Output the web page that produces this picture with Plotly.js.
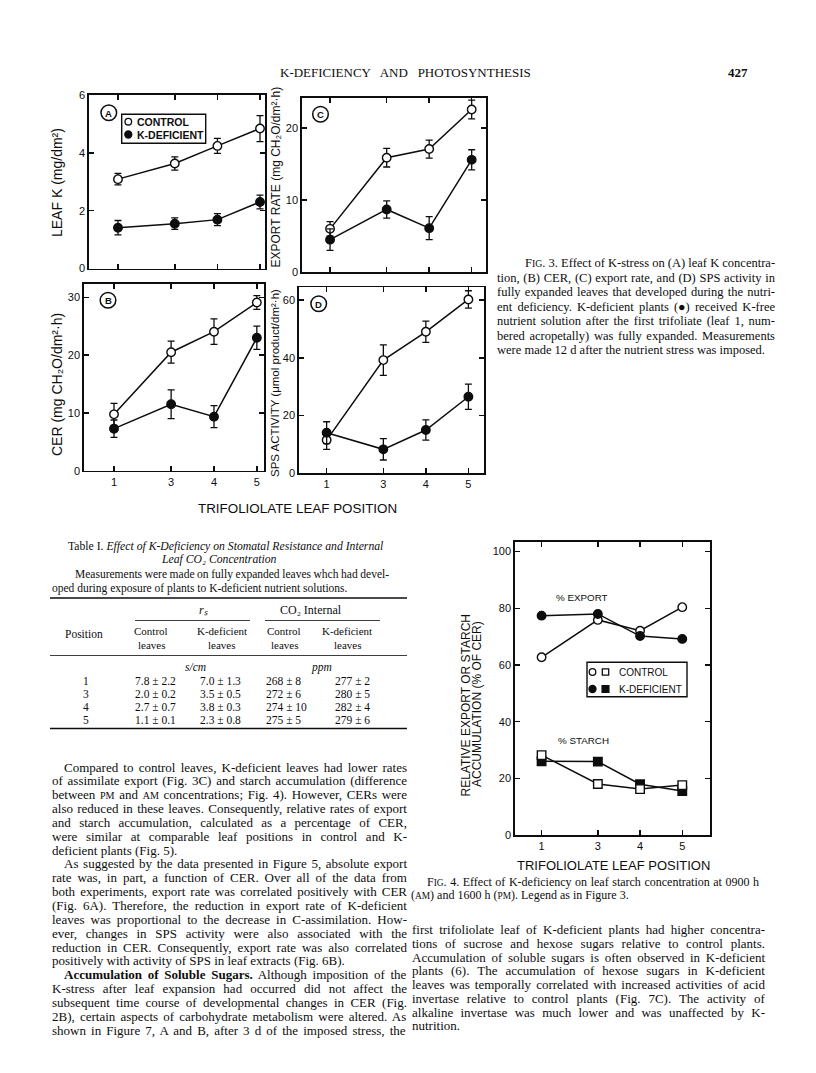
<!DOCTYPE html>
<html>
<head>
<meta charset="utf-8">
<script src="https://cdn.plot.ly/plotly-3.0.1.min.js"></script>
<style>
  html,body{margin:0;padding:0;background:#fff;}
  #chart{width:816px;height:1073px;}
</style>
</head>
<body>
<div id="chart"></div>
<script>
// ---------------- DATA ----------------
const leafLabels = ['1', '3', '4', '5'];          // trifoliolate leaf positions (tick labels)
const leafAxis   = [0, 1.333, 2.333, 3.333];      // axis coordinate of each leaf position (uneven spacing of the original)

// Fig 3A  leaf K (mg/dm2)
const leafKControl    = [3.09, 3.63, 4.24, 4.84];
const leafKControlErr = [0.20, 0.23, 0.26, 0.45];
const leafKDef        = [1.41, 1.55, 1.69, 2.30];
const leafKDefErr     = [0.25, 0.20, 0.21, 0.24];

// Fig 3B  CER (mg CH2O/dm2 h)
const cerControl    = [9.75, 20.5, 24.05, 29.1];
const cerControlErr = [1.9, 1.9, 2.2, 1.2];
const cerDef        = [7.27, 11.5, 9.35, 23.0];
const cerDefErr     = [1.5, 2.5, 1.9, 2.0];

// Fig 3C  export rate (mg CH2O/dm2 h)
const exportControl    = [6.0, 15.9, 17.1, 22.6];
const exportControlErr = [1.0, 1.3, 1.25, 1.3];
const exportDef        = [4.5, 8.7, 6.1, 15.6];
const exportDefErr     = [1.5, 1.2, 1.6, 1.4];

// Fig 3D  SPS activity (umol product/dm2 h)
const spsControl    = [11.5, 39.2, 49.0, 60.2];
const spsControlErr = [3.2, 5.3, 3.7, 3.0];
const spsDef        = [14.05, 8.3, 15.0, 26.5];
const spsDefErr     = [3.8, 3.7, 3.5, 4.4];

// Fig 5  relative export / starch accumulation (% of CER)
const relExportControl = [62.7, 75.9, 72.1, 80.4];
const relExportDef     = [77.4, 78.0, 70.2, 69.2];
const relStarchControl = [28.2, 18.0, 16.2, 17.6];
const relStarchDef     = [26.0, 25.9, 17.9, 15.5];

// axis tick values
const yTicksA = [0, 2, 4, 6];
const yTicksB = [0, 10, 20, 30];
const yTicksC = [0, 10, 20];
const yTicksD = [0, 20, 40, 60];
const yTicksF = [0, 20, 40, 60, 80, 100];

// Table I
const tablePositions = ['1', '3', '4', '5'];
const rsControl  = ['7.8 ± 2.2', '2.0 ± 0.2', '2.7 ± 0.7', '1.1 ± 0.1'];
const rsDef      = ['7.0 ± 1.3', '3.5 ± 0.5', '3.8 ± 0.3', '2.3 ± 0.8'];
const co2Control = ['268 ± 8', '272 ± 6', '274 ± 10', '275 ± 5'];
const co2Def     = ['277 ± 2', '280 ± 5', '282 ± 4', '279 ± 6'];

// Text
const fig3Caption = [
  'F<SC>IG</SC>. 3. Effect of K-stress on (A) leaf K concentra-',
  'tion, (B) CER, (C) export rate, and (D) SPS activity in',
  'fully expanded leaves that developed during the nutri-',
  'ent deficiency. K-deficient plants (●) received K-free',
  'nutrient solution after the first trifoliate (leaf 1, num-',
  'bered acropetally) was fully expanded. Measurements',
  'were made 12 d after the nutrient stress was imposed.'
];
const fig4Caption = [
  'F<SC>IG</SC>. 4. Effect of K-deficiency on leaf starch concentration at 0900 h',
  '(<SC>AM</SC>) and 1600 h (<SC>PM</SC>). Legend as in Figure 3.'
];
const bodyLeft = [
  'Compared to control leaves, K-deficient leaves had lower rates',
  'of assimilate export (Fig. 3C) and starch accumulation (difference',
  'between <SC>PM</SC> and <SC>AM</SC> concentrations; Fig. 4). However, CERs were',
  'also reduced in these leaves. Consequently, relative rates of export',
  'and starch accumulation, calculated as a percentage of CER,',
  'were similar at comparable leaf positions in control and K-',
  'deficient plants (Fig. 5).',
  'As suggested by the data presented in Figure 5, absolute export',
  'rate was, in part, a function of CER. Over all of the data from',
  'both experiments, export rate was correlated positively with CER',
  '(Fig. 6A). Therefore, the reduction in export rate of K-deficient',
  'leaves was proportional to the decrease in C-assimilation. How-',
  'ever, changes in SPS activity were also associated with the',
  'reduction in CER. Consequently, export rate was also correlated',
  'positively with activity of SPS in leaf extracts (Fig. 6B).',
  '<b>Accumulation of Soluble Sugars.</b> Although imposition of the',
  'K-stress after leaf expansion had occurred did not affect the',
  'subsequent time course of developmental changes in CER (Fig.',
  '2B), certain aspects of carbohydrate metabolism were altered. As',
  'shown in Figure 7, A and B, after 3 d of the imposed stress, the'
];
const bodyLeftIndent = [0, 7, 15];
const bodyLeftLast   = [6, 14];
const bodyRight = [
  'first trifoliolate leaf of K-deficient plants had higher concentra-',
  'tions of sucrose and hexose sugars relative to control plants.',
  'Accumulation of soluble sugars is often observed in K-deficient',
  'plants (6). The accumulation of hexose sugars in K-deficient',
  'leaves was temporally correlated with increased activities of acid',
  'invertase relative to control plants (Fig. 7C). The activity of',
  'alkaline invertase was much lower and was unaffected by K-',
  'nutrition.'
];

// ---------------- HELPERS ----------------
const W = 816, H = 1073;
const SANS = 'Liberation Sans, Arial, sans-serif';
const SERIF = 'Liberation Serif, Times New Roman, serif';
const INK = '#0d0d0d';
const px = x => x / W;
const py = y => 1 - y / H;

const cv = document.createElement('canvas');
const ctx = cv.getContext('2d');
function measureMarkup(str, size) {
  let total = 0;
  const re = /<SC>(.*?)<\/SC>|<b>(.*?)<\/b>|<i>(.*?)<\/i>|([^<]+)/g;
  let m;
  while ((m = re.exec(str))) {
    if (m[1] !== undefined) { ctx.font = `${(size * 0.78).toFixed(2)}px "Liberation Serif"`; total += ctx.measureText(m[1]).width; }
    else if (m[2] !== undefined) { ctx.font = `bold ${size}px "Liberation Serif"`; total += ctx.measureText(m[2]).width; }
    else if (m[3] !== undefined) { ctx.font = `italic ${size}px "Liberation Serif"`; total += ctx.measureText(m[3]).width; }
    else if (m[4] !== undefined) { ctx.font = `${size}px "Liberation Serif"`; total += ctx.measureText(m[4]).width; }
  }
  return total;
}
function toPlotly(str, size) {
  return str.replace(/<SC>(.*?)<\/SC>/g, (a, b) => `<span style="font-size:${(size * 0.78).toFixed(1)}px">${b}</span>`);
}
const annotations = [];
const shapes = [];

function serifLine(str, x0, x1, y, size, justify) {
  let txt = toPlotly(str, size);
  if (justify) {
    const plain = str.replace(/<[^>]+>/g, '');
    const n = (plain.match(/ /g) || []).length;
    const w = measureMarkup(str, size);
    let ws = n ? (x1 - x0 - w) / n : 0;
    ws = Math.max(-1.5, ws);
    txt = `<span style="word-spacing:${ws.toFixed(2)}px">${txt}</span>`;
  }
  annotations.push({xref: 'paper', yref: 'paper', x: px(x0), y: py(y), xanchor: 'left', yanchor: 'middle',
    text: txt, showarrow: false, font: {family: SERIF, size: size, color: INK}});
}
function label(text, x, y, size, opts = {}) {
  annotations.push(Object.assign({xref: 'paper', yref: 'paper', x: px(x), y: py(y), xanchor: 'center', yanchor: 'middle',
    text: text, showarrow: false, font: {family: SANS, size: size, color: INK}}, opts));
}
function hline(x0, x1, y, w) {
  shapes.push({type: 'line', xref: 'paper', yref: 'paper', x0: px(x0), x1: px(x1), y0: py(y), y1: py(y), line: {color: INK, width: w}});
}
function rect(x0, x1, y0, y1, w) {
  shapes.push({type: 'rect', xref: 'paper', yref: 'paper', x0: px(x0), x1: px(x1), y0: py(y1), y1: py(y0), line: {color: INK, width: w}, fillcolor: 'rgba(0,0,0,0)'});
}
function circ(cx, cy, r, fill, w) {
  shapes.push({type: 'circle', xref: 'paper', yref: 'paper', x0: px(cx - r), x1: px(cx + r), y0: py(cy + r), y1: py(cy - r), line: {color: INK, width: w}, fillcolor: fill});
}
function sq(cx, cy, r, fill, w) {
  shapes.push({type: 'rect', xref: 'paper', yref: 'paper', x0: px(cx - r), x1: px(cx + r), y0: py(cy + r), y1: py(cy - r), line: {color: INK, width: w}, fillcolor: fill});
}

function xax(x0, x1, range, showLabels, anchor) {
  return {domain: [px(x0), px(x1)], range: range, tickmode: 'array', tickvals: leafAxis, ticktext: leafLabels,
    showticklabels: showLabels, ticks: 'inside', ticklen: 5, tickwidth: 1.5, tickcolor: INK,
    showline: true, linewidth: 1.7, linecolor: INK, mirror: 'ticks', showgrid: false, zeroline: false,
    anchor: anchor, tickfont: {family: SANS, size: 11, color: INK}, fixedrange: true};
}
function yax(top, bottom, range, tickvals, anchor) {
  return {domain: [py(bottom), py(top)], range: range, tickmode: 'array', tickvals: tickvals, ticktext: tickvals.map(String),
    ticks: 'inside', ticklen: 5, tickwidth: 1.5, tickcolor: INK,
    showline: true, linewidth: 1.7, linecolor: INK, mirror: 'ticks', showgrid: false, zeroline: false,
    anchor: anchor, tickfont: {family: SANS, size: 11, color: INK}, fixedrange: true};
}

const traces = [];
function series(xa, ya, yv, err, filled, symbol) {
  const t = {x: leafAxis, y: yv, xaxis: xa, yaxis: ya, type: 'scatter', mode: 'lines+markers',
    line: {color: INK, width: 1.5},
    marker: {symbol: symbol || 'circle', size: 8.5, color: filled ? INK : '#fff', line: {color: INK, width: 1.4}},
    showlegend: false, hoverinfo: 'skip', cliponaxis: false};
  if (err) t.error_y = {type: 'data', array: err, visible: true, color: INK, thickness: 1.3, width: 3.5};
  traces.push(t);
}
series('x', 'y', leafKControl, leafKControlErr, false);
series('x', 'y', leafKDef, leafKDefErr, true);
series('x2', 'y2', exportControl, exportControlErr, false);
series('x2', 'y2', exportDef, exportDefErr, true);
series('x3', 'y3', cerControl, cerControlErr, false);
series('x3', 'y3', cerDef, cerDefErr, true);
series('x4', 'y4', spsControl, spsControlErr, false);
series('x4', 'y4', spsDef, spsDefErr, true);
series('x5', 'y5', relExportControl, null, false, 'circle');
series('x5', 'y5', relExportDef, null, true, 'circle');
series('x5', 'y5', relStarchDef, null, true, 'square');
series('x5', 'y5', relStarchControl, null, false, 'square');

// ---------------- TEXT / DECORATION ----------------
// running header
serifLine('K-DEFICIENCY AND PHOTOSYNTHESIS', 278, 530, 72, 13, true);
annotations.push({xref: 'paper', yref: 'paper', x: px(750), y: py(72), xanchor: 'right', yanchor: 'middle',
  text: '<b>427</b>', showarrow: false, font: {family: SERIF, size: 13, color: INK}});

// panel letters
[['A', 108.8, 112.8], ['C', 320.5, 114.2], ['B', 108, 300.2], ['D', 318.7, 303.8]].forEach(p => {
  circ(p[1], p[2], 7.8, 'rgba(0,0,0,0)', 1.5);
  label('<b>' + p[0] + '</b>', p[1], p[2] + 0.5, 9.5);
});

// legend in panel A
rect(121.7, 205.7, 114.3, 143.3, 1.4);
circ(128.3, 121.7, 3.3, '#fff', 1.3);
circ(128.3, 134.5, 3.5, INK, 1.3);
label('<b>CONTROL</b>', 135, 121.7, 10.5, {xanchor: 'left'});
label('<b>K-DEFICIENT</b>', 135, 134.5, 10.5, {xanchor: 'left'});

// Fig 3 axis titles
label('LEAF K (mg/dm²)', 57, 183, 14, {textangle: -90});
label('CER (mg CH₂O/dm²·h)', 57, 385, 14, {textangle: -90});
label('EXPORT RATE (mg CH₂O/dm²·h)', 275.5, 177, 12, {textangle: -90});
label('SPS ACTIVITY (μmol product/dm²·h)', 275, 383, 11.5, {textangle: -90});
label('TRIFOLIOLATE LEAF POSITION', 297, 508, 13.4);

// Fig 3 caption
fig3Caption.forEach((s, i) => {
  const x0 = i === 0 ? 523 : 495;
  serifLine(s, x0, 773, 263.3 + i * 14.45, 12.5, i < fig3Caption.length - 1);
});

// Fig 5 labels
label('% EXPORT', 582, 597, 9.8);
label('% STARCH', 583, 740, 9.8);
rect(587, 687, 662.3, 696.7, 1.4);
circ(592.5, 672, 3.3, '#fff', 1.3);
sq(605.5, 672, 3.2, '#fff', 1.3);
circ(592.5, 689, 3.5, INK, 1.3);
sq(605.5, 689, 3.4, INK, 1.3);
label('CONTROL', 617, 672, 10, {xanchor: 'left'});
label('K-DEFICIENT', 617, 689, 10, {xanchor: 'left'});
label('RELATIVE EXPORT OR STARCH', 465.5, 706, 12, {textangle: -90});
label('ACCUMULATION (% OF CER)', 477, 704, 12, {textangle: -90});
label('TRIFOLIOLATE LEAF POSITION', 613, 865, 13);

// Fig 4 caption
serifLine(fig4Caption[0], 425, 757, 881.7, 12, true);
serifLine(fig4Caption[1], 409, 757, 895.2, 12, false);

// Table I
annotations.push({xref: 'paper', yref: 'paper', x: px(225), y: py(546), xanchor: 'center', yanchor: 'middle', showarrow: false,
  text: 'Table I. <i>Effect of K-Deficiency on Stomatal Resistance and Internal</i>', font: {family: SERIF, size: 11.7, color: INK}});
annotations.push({xref: 'paper', yref: 'paper', x: px(219), y: py(560), xanchor: 'center', yanchor: 'middle', showarrow: false,
  text: '<i>Leaf CO₂ Concentration</i>', font: {family: SERIF, size: 11.7, color: INK}});
serifLine('Measurements were made on fully expanded leaves whch had devel-', 73, 387, 574, 11.5, true);
serifLine('oped during exposure of plants to K-deficient nutrient solutions.', 50, 387, 588, 11.5, false);
hline(50, 407, 598, 1.4);
function tcell(text, x, y, size, anchor) {
  annotations.push({xref: 'paper', yref: 'paper', x: px(x), y: py(y), xanchor: anchor || 'center', yanchor: 'middle', showarrow: false,
    text: text, font: {family: SERIF, size: size, color: INK}});
}
tcell('<i>rₛ</i>', 203, 610, 12);
tcell('CO₂ Internal', 311, 610, 12);
hline(135, 250, 620.5, 0.8);
hline(265, 380, 620.5, 0.8);
tcell('Position', 84, 634, 11.5);
[[151, 'Control'], [222, 'K-deficient'], [284, 'Control'], [347, 'K-deficient']].forEach(c => {
  tcell(c[1], c[0], 631, 11);
  tcell('leaves', c[0], 644.5, 11);
});
hline(50, 407, 655.5, 0.8);
tcell('<i>s/cm</i>', 195, 667, 11.5);
tcell('<i>ppm</i>', 321, 667, 11.5);
tablePositions.forEach((p, i) => {
  const y = 681 + i * 13.1;
  tcell(p, 86, y, 11.5);
  tcell(rsControl[i], 133, y, 11.5, 'left');
  tcell(rsDef[i], 198, y, 11.5, 'left');
  tcell(co2Control[i], 264, y, 11.5, 'left');
  tcell(co2Def[i], 333, y, 11.5, 'left');
});
hline(50, 407, 728.5, 1.4);

// body text, left column
bodyLeft.forEach((s, i) => {
  const x0 = bodyLeftIndent.includes(i) ? 62 : 50;
  serifLine(s, x0, 405, 767 + i * 13.85, 13, !bodyLeftLast.includes(i));
});
// body text, right column
bodyRight.forEach((s, i) => {
  serifLine(s, 410, 763, 929.5 + i * 13.75, 13, i < bodyRight.length - 1);
});

// ---------------- LAYOUT ----------------
const layout = {
  width: W, height: H,
  margin: {l: 0, r: 0, t: 0, b: 0},
  paper_bgcolor: '#fff', plot_bgcolor: 'rgba(0,0,0,0)',
  showlegend: false,
  xaxis:  xax(89, 265, [-0.68, 3.45], false, 'y'),
  yaxis:  yax(95, 268.5, [0, 6], yTicksA, 'x'),
  xaxis2: xax(302, 486, [-0.66, 3.67], false, 'y2'),
  yaxis2: yax(98, 272, [0, 24.2], yTicksC, 'x2'),
  xaxis3: xax(84, 264, [-0.70, 3.50], true, 'y3'),
  yaxis3: yax(284, 470.7, [0, 32.3], yTicksB, 'x3'),
  xaxis4: xax(299, 484, [-0.65, 3.70], true, 'y4'),
  yaxis4: yax(287.3, 473.3, [0, 64.4], yTicksD, 'x4'),
  xaxis5: xax(515, 710, [-0.63, 3.99], true, 'y5'),
  yaxis5: yax(541.7, 835, [0, 103.5], yTicksF, 'x5'),
  annotations: annotations,
  shapes: shapes
};

Plotly.newPlot('chart', traces, layout, {displayModeBar: false, staticPlot: true});
</script>
</body>
</html>
